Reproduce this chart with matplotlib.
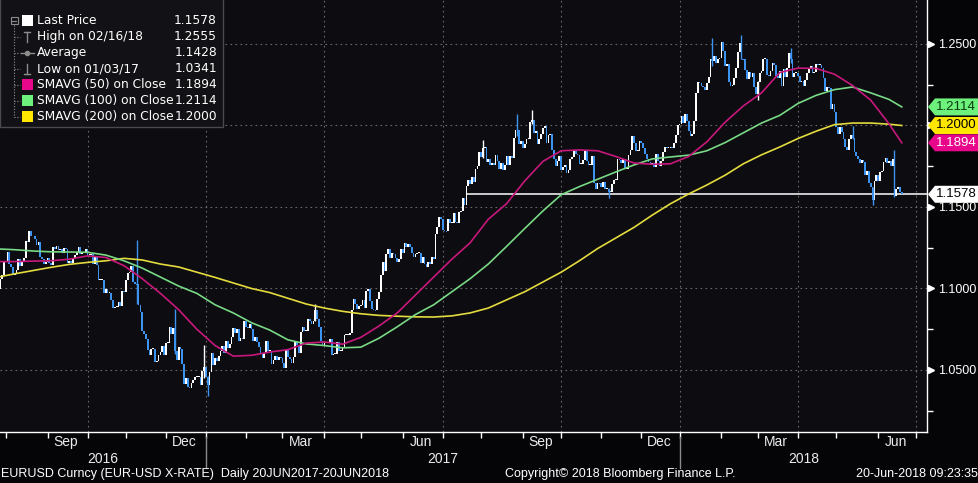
import numpy as np
import pandas as pd
import matplotlib
matplotlib.use("Agg")
import matplotlib.pyplot as plt
from matplotlib import transforms, font_manager
from matplotlib.lines import Line2D
from matplotlib.patches import Polygon, Rectangle

# EURUSD daily closes, one row per week (Mon..Fri), first row = week of 25 Jul 2016
first_day = "2016-07-25"
closes = [
    1.0990, 1.0995, 1.1060, 1.1085, 1.1170,   # Jul 25 2016
    1.1165, 1.1225, 1.1150, 1.1130, 1.1085,
    1.1090, 1.1115, 1.1180, 1.1135, 1.1160,
    1.1185, 1.1290, 1.1285, 1.1355, 1.1325,
    1.1320, 1.1305, 1.1265, 1.1285, 1.1195,
    1.1180, 1.1150, 1.1160, 1.1190, 1.1155,   # Aug 29
    1.1145, 1.1255, 1.1240, 1.1260, 1.1235,
    1.1240, 1.1220, 1.1250, 1.1240, 1.1155,
    1.1170, 1.1155, 1.1190, 1.1205, 1.1225,
    1.1255, 1.1210, 1.1220, 1.1220, 1.1240,
    1.1205, 1.1205, 1.1210, 1.1150, 1.1200,   # Oct 3
    1.1145, 1.1055, 1.1055, 1.1055, 1.0970,
    1.0995, 1.0975, 1.0975, 1.0930, 1.0880,
    1.0885, 1.0885, 1.0920, 1.0895, 1.0985,
    1.0980, 1.1055, 1.1095, 1.1100, 1.1140,
    1.1040, 1.1030, 1.1025, 1.0900, 1.0855,   # Nov 7
    1.0740, 1.0720, 1.0690, 1.0625, 1.0590,
    1.0630, 1.0630, 1.0550, 1.0555, 1.0590,
    1.0610, 1.0645, 1.0590, 1.0665, 1.0665,
    1.0765, 1.0720, 1.0760, 1.0615, 1.0560,   # Dec 5
    1.0640, 1.0630, 1.0535, 1.0415, 1.0450,
    1.0395, 1.0390, 1.0420, 1.0440, 1.0455,
    1.0455, 1.0460, 1.0410, 1.0495, 1.0520,
    1.0460, 1.0405, 1.0490, 1.0605, 1.0530,   # Jan 2 2017
    1.0575, 1.0555, 1.0585, 1.0615, 1.0645,
    1.0605, 1.0675, 1.0635, 1.0660, 1.0705,
    1.0755, 1.0730, 1.0750, 1.0680, 1.0695,
    1.0690, 1.0800, 1.0765, 1.0755, 1.0785,
    1.0750, 1.0680, 1.0700, 1.0670, 1.0640,   # Feb 6
    1.0600, 1.0575, 1.0605, 1.0675, 1.0615,
    1.0615, 1.0535, 1.0560, 1.0585, 1.0560,
    1.0580, 1.0575, 1.0545, 1.0510, 1.0620,
    1.0580, 1.0565, 1.0545, 1.0580, 1.0670,   # Mar 6
    1.0655, 1.0605, 1.0735, 1.0765, 1.0740,
    1.0740, 1.0810, 1.0800, 1.0785, 1.0800,
    1.0865, 1.0815, 1.0765, 1.0680, 1.0650,
    1.0665, 1.0665, 1.0665, 1.0690, 1.0590,   # Apr 3
    1.0600, 1.0600, 1.0670, 1.0615, 1.0615,
    1.0640, 1.0715, 1.0715, 1.0715, 1.0725,
    1.0865, 1.0935, 1.0905, 1.0875, 1.0895,
    1.0900, 1.0930, 1.0880, 1.0985, 1.0995,   # May 1
    1.0925, 1.0875, 1.0870, 1.0865, 1.0935,
    1.0980, 1.1085, 1.1160, 1.1105, 1.1210,
    1.1245, 1.1185, 1.1220, 1.1210, 1.1185,
    1.1165, 1.1180, 1.1245, 1.1215, 1.1280,
    1.1255, 1.1270, 1.1255, 1.1215, 1.1195,   # Jun 5
    1.1210, 1.1215, 1.1220, 1.1155, 1.1195,
    1.1150, 1.1130, 1.1165, 1.1150, 1.1195,
    1.1180, 1.1335, 1.1375, 1.1440, 1.1425,
    1.1360, 1.1355, 1.1350, 1.1425, 1.1400,   # Jul 3
    1.1400, 1.1465, 1.1410, 1.1400, 1.1470,
    1.1475, 1.1555, 1.1510, 1.1630, 1.1665,
    1.1640, 1.1685, 1.1655, 1.1735, 1.1750,
    1.1835, 1.1805, 1.1860, 1.1865, 1.1775,   # Jul 31
    1.1795, 1.1755, 1.1770, 1.1760, 1.1820,
    1.1780, 1.1735, 1.1770, 1.1725, 1.1760,
    1.1815, 1.1760, 1.1810, 1.1800, 1.1925,
    1.1975, 1.1970, 1.1885, 1.1905, 1.1860,
    1.1885, 1.1915, 1.1920, 1.2020, 1.2035,   # Sep 4
    1.1955, 1.1965, 1.1885, 1.1920, 1.1945,
    1.1985, 1.1995, 1.1890, 1.1940, 1.1950,
    1.1850, 1.1795, 1.1750, 1.1780, 1.1815,
    1.1730, 1.1745, 1.1760, 1.1710, 1.1730,   # Oct 2
    1.1795, 1.1805, 1.1850, 1.1825, 1.1820,
    1.1765, 1.1765, 1.1790, 1.1845, 1.1785,
    1.1760, 1.1760, 1.1815, 1.1650, 1.1610,
    1.1650, 1.1645, 1.1620, 1.1655, 1.1610,
    1.1610, 1.1590, 1.1590, 1.1640, 1.1665,   # Nov 6
    1.1665, 1.1795, 1.1790, 1.1770, 1.1795,
    1.1735, 1.1735, 1.1820, 1.1850, 1.1935,
    1.1895, 1.1845, 1.1845, 1.1905, 1.1895,
    1.1860, 1.1825, 1.1795, 1.1775, 1.1765,   # Dec 4
    1.1770, 1.1745, 1.1825, 1.1780, 1.1750,
    1.1780, 1.1840, 1.1870, 1.1860, 1.1860,
    1.1865, 1.1860, 1.1890, 1.1940, 1.2005,
    1.2010, 1.2060, 1.2015, 1.2070, 1.2030,   # Jan 1 2018
    1.1965, 1.1935, 1.1950, 1.2030, 1.2200,
    1.2265, 1.2260, 1.2240, 1.2235, 1.2220,
    1.2260, 1.2300, 1.2410, 1.2395, 1.2425,
    1.2385, 1.2405, 1.2415, 1.2510, 1.2460,
    1.2365, 1.2375, 1.2265, 1.2245, 1.2250,   # Feb 5
    1.2290, 1.2355, 1.2450, 1.2505, 1.2410,
    1.2405, 1.2340, 1.2285, 1.2330, 1.2295,
    1.2320, 1.2235, 1.2195, 1.2265, 1.2320,
    1.2335, 1.2410, 1.2410, 1.2310, 1.2305,   # Mar 5
    1.2335, 1.2385, 1.2370, 1.2305, 1.2290,
    1.2335, 1.2240, 1.2345, 1.2300, 1.2355,
    1.2445, 1.2405, 1.2300, 1.2320, 1.2320,
    1.2305, 1.2265, 1.2270, 1.2240, 1.2280,   # Apr 2
    1.2320, 1.2355, 1.2365, 1.2325, 1.2330,
    1.2380, 1.2370, 1.2370, 1.2350, 1.2290,
    1.2210, 1.2235, 1.2230, 1.2100, 1.2130,
    1.2080, 1.1990, 1.1950, 1.1990, 1.1960,   # Apr 30
    1.1920, 1.1865, 1.1850, 1.1915, 1.1940,
    1.1925, 1.1835, 1.1810, 1.1795, 1.1770,
    1.1790, 1.1775, 1.1695, 1.1720, 1.1650,
    1.1625, 1.1540, 1.1660, 1.1695, 1.1660,
    1.1715, 1.1720, 1.1775, 1.1800, 1.1770,   # Jun 4
    1.1780, 1.1750, 1.1795, 1.1570, 1.1610,
    1.1625, 1.1590, 1.1578,
]

# days with a visible wick beyond the body
spike_dates = ["2016-11-09", "2016-12-08", "2016-12-30", "2017-01-03", "2017-03-27",
               "2017-08-02", "2017-08-29", "2017-09-08", "2017-11-07", "2018-01-25",
               "2018-02-16", "2018-03-01", "2018-03-27", "2018-05-14", "2018-05-29",
               "2018-06-14"]
spike_highs = [1.1300, 1.0874, 1.0652, 1.0465, 1.0906, 1.1910, 1.2070, 1.2092, 1.1615,
               1.2537, 1.2555, 1.2275, 1.2476, 1.1995, 1.1625, 1.1852]
spike_lows = [1.0905, 1.0600, 1.0450, 1.0341, 1.0800, 1.1800, 1.1935, 1.2010, 1.1555,
              1.2365, 1.2410, 1.2155, 1.2385, 1.1915, 1.1510, 1.1560]

# moving averages every 10 trading days (+ the last day)
sma_step = 10
sma50 = [
    1.1165, 1.1165, 1.1168, 1.1170, 1.1180, 1.1200, 1.1190, 1.1140, 1.1060, 1.0970,
    1.0870, 1.0750, 1.0650, 1.0585, 1.0590, 1.0610, 1.0625, 1.0665, 1.0672, 1.0658,
    1.0700, 1.0770, 1.0850, 1.0960, 1.1070, 1.1180, 1.1280, 1.1425, 1.1520, 1.1660,
    1.1780, 1.1845, 1.1850, 1.1845, 1.1810, 1.1770, 1.1762, 1.1765, 1.1810, 1.1900,
    1.2020, 1.2120, 1.2200, 1.2325, 1.2352, 1.2350, 1.2315, 1.2245, 1.2155, 1.2010,
    1.1894,
]
sma100 = [
    1.1243, 1.1238, 1.1230, 1.1225, 1.1224, 1.1222, 1.1205, 1.1170, 1.1125, 1.1070,
    1.1015, 1.0970, 1.0900, 1.0850, 1.0790, 1.0745, 1.0685, 1.0660, 1.0650, 1.0636,
    1.0640, 1.0695, 1.0765, 1.0840, 1.0900, 1.0980, 1.1060, 1.1150, 1.1258, 1.1368,
    1.1476, 1.1575, 1.1625, 1.1670, 1.1715, 1.1758, 1.1795, 1.1807, 1.1818, 1.1845,
    1.1895, 1.1955, 1.2015, 1.2062, 1.2135, 1.2185, 1.2220, 1.2236, 1.2200, 1.2160,
    1.2114,
]
sma200 = [
    1.1068, 1.1090, 1.1110, 1.1130, 1.1148, 1.1160, 1.1170, 1.1185, 1.1175, 1.1150,
    1.1132, 1.1100, 1.1068, 1.1034, 1.1000, 1.0975, 1.0940, 1.0905, 1.0880, 1.0860,
    1.0845, 1.0835, 1.0830, 1.0826, 1.0825, 1.0832, 1.0850, 1.0880, 1.0930, 1.0980,
    1.1040, 1.1100, 1.1170, 1.1245, 1.1310, 1.1375, 1.1450, 1.1520, 1.1580, 1.1635,
    1.1695, 1.1765, 1.1820, 1.1868, 1.1920, 1.1965, 1.2005, 1.2015, 1.2015, 1.2008,
    1.2000,
]

last_price = 1.1578
last_line_from = "2017-07-20"

legend_labels = ["Last Price", "High on 02/16/18", "Average", "Low on 01/03/17",
                 "SMAVG (50) on Close", "SMAVG (100) on Close", "SMAVG (200) on Close"]
legend_values = ["1.1578", "1.2555", "1.1428", "1.0341", "1.1894", "1.2114", "1.2000"]

footer_left = "EURUSD Curncy (EUR-USD X-RATE)  Daily 20JUN2017-20JUN2018"
footer_mid = "Copyright\u00a9 2018 Bloomberg Finance L.P."
footer_right = "20-Jun-2018 09:23:35"

# colours
FIG_BG = "#050507"
AX_BG = "#0c0c11"
BLUE = "#3d93f0"
MAGENTA = "#c8187c"
GREEN = "#79d985"
YELLOW = "#e4dc3e"
TAG_MAGENTA = "#e8068a"
TAG_GREEN = "#6ef07c"
TAG_YELLOW = "#ffe600"
GRID = "#6a6a6a"

names = {f.name for f in font_manager.fontManager.ttflist}
SANS = "Liberation Sans" if "Liberation Sans" in names else "DejaVu Sans"
NARROW = "Liberation Sans Narrow" if "Liberation Sans Narrow" in names else SANS

W, H = 979, 483
AX_W, AX_H = 927, 432
fig = plt.figure(figsize=(W / 100, H / 100), dpi=100, facecolor=FIG_BG)
ax = fig.add_axes([0, (H - AX_H) / H, AX_W / W, AX_H / H])
ax.set_facecolor(AX_BG)

days = pd.bdate_range(first_day, periods=len(closes))
cal = pd.bdate_range(first_day, "2018-09-28")
x = np.arange(len(closes))
c = np.array(closes)
o = np.r_[c[0], c[:-1]]
up = c >= o
h = c - o
h = np.where(up, np.maximum(h, 0.0006), np.minimum(h, -0.0006))

ymin, ymax = 1.01196, 1.27699
ax.set_ylim(ymin, ymax)
ax.set_xlim(1.92, 510.85)

# grid
ax.set_yticks(np.arange(1.05, 1.2501, 0.05))
ax.grid(axis="y", color=GRID, linestyle=(0, (1.5, 3)), linewidth=0.8)
quarters = pd.date_range("2016-10-01", "2018-07-01", freq="QS")
for d in quarters:
    ax.axvline(cal.searchsorted(d), color=GRID, linestyle=(0, (1.5, 3)), linewidth=0.8, zorder=0.5)

# last price line
ax.hlines(last_price, days.searchsorted(pd.Timestamp(last_line_from)), 510.85,
          color="white", linewidth=1.1, zorder=1)

# candles
ax.bar(x[up], h[up], bottom=o[up], width=0.95, color="white", linewidth=0, zorder=2)
ax.bar(x[~up], h[~up], bottom=o[~up], width=0.95, color=BLUE, linewidth=0, zorder=2)
s_idx = days.get_indexer(pd.to_datetime(spike_dates))
s_col = ["white" if up[i] else BLUE for i in s_idx]
ax.vlines(s_idx, spike_lows, spike_highs, colors=s_col, linewidth=1.0, zorder=2)

# moving averages
sma_x = list(x[::sma_step]) + [x[-1]]
ax.plot(sma_x, sma200, color=YELLOW, linewidth=1.2, zorder=3)
ax.plot(sma_x, sma100, color=GREEN, linewidth=1.2, zorder=3)
ax.plot(sma_x, sma50, color=MAGENTA, linewidth=1.2, zorder=3)

# spines
for side in ["top", "left"]:
    ax.spines[side].set_visible(False)
for side in ["right", "bottom"]:
    ax.spines[side].set_color("white")
    ax.spines[side].set_linewidth(1.0)

# right axis (the 1.2000 label sits under the yellow tag in the original)
ax.yaxis.tick_right()
yt = ax.get_yticks()
ax.set_yticklabels(["" if abs(v - 1.2) < 1e-9 else f"{v:.4f}" for v in yt], fontfamily=SANS)
ax.set_yticks(np.arange(1.025, 1.27, 0.05), minor=True)
ax.tick_params(axis="y", which="major", length=0, pad=8, labelsize=9, labelcolor="white")
ax.tick_params(axis="y", which="minor", length=4, width=1, color="white", direction="out")
blend_y = transforms.blended_transform_factory(ax.transAxes, ax.transData)
ax.plot(np.ones(len(yt)) + 4 / AX_W, yt, ls="none", marker=">", ms=4.5,
        color="white", transform=blend_y, clip_on=False, zorder=4)

# bottom axis: month ticks, quarter labels, year labels
months = pd.date_range("2016-08-01", "2018-07-01", freq="MS")
ax.set_xticks([cal.searchsorted(d) for d in months])
ax.set_xticklabels([])
ax.tick_params(axis="x", length=4, width=1, color="white", direction="out")
blend_x = transforms.blended_transform_factory(ax.transData, ax.transAxes)
for d in pd.date_range("2016-09-01", "2018-06-01", freq="3MS"):
    ax.text(cal.searchsorted(d + pd.Timedelta(days=14)), -10 / AX_H, d.strftime("%b"),
            transform=blend_x, ha="center", va="center", color="#ececec",
            fontfamily=NARROW, fontsize=10)
year_starts = [cal.searchsorted(pd.Timestamp(y)) for y in ["2017-01-01", "2018-01-01"]]
bounds = [1.92] + year_starts + [510.85]
for yr, a, b in zip(["2016", "2017", "2018"], bounds[:-1], bounds[1:]):
    ax.text((a + b) / 2, -27 / AX_H, yr, transform=blend_x, ha="center", va="center",
            color="#ececec", fontfamily=NARROW, fontsize=10)
for p in year_starts:
    ax.add_line(Line2D([p, p], [-5 / AX_H, -36 / AX_H], color="#8a8a8a", lw=1,
                       transform=blend_x, clip_on=False))

# value tags on the right
half = 8.5 * (ymax - ymin) / AX_H
for val, face, txt in [(sma100[-1], TAG_GREEN, "#0a3a10"), (sma200[-1], TAG_YELLOW, "black"),
                       (sma50[-1], TAG_MAGENTA, "white"), (last_price, "white", "black")]:
    x0, x1, x2 = 1 + 1 / AX_W, 1 + 8 / AX_W, 1 + 53 / AX_W
    ax.add_patch(Polygon([(x0, val), (x1, val + half), (x2, val + half),
                          (x2, val - half), (x1, val - half)], closed=True,
                         facecolor=face, edgecolor="none", transform=blend_y,
                         clip_on=False, zorder=10))
    ax.text(1 + 9 / AX_W, val, f"{val:.4f}", transform=blend_y, ha="left", va="center",
            color=txt, fontfamily=SANS, fontsize=9.5, zorder=11, clip_on=False)

# legend block, in pixel coordinates from the top-left corner
px = transforms.Affine2D().scale(1.0 / W, -1.0 / H).translate(0, 1) + fig.transFigure
fig.add_artist(Rectangle((0, -2), 223, 129, transform=px, facecolor="#121216",
                         edgecolor="#4a4a4a", linewidth=1, zorder=20))
icon = ["white", "high", "avg", "low", TAG_MAGENTA, TAG_GREEN, TAG_YELLOW]
tree = "#8c8c8c"
rows = [20.5 + 16 * k for k in range(len(legend_labels))]
fig.add_artist(Rectangle((11, rows[0] - 3.5), 7, 7, transform=px, facecolor="none",
                         edgecolor=tree, linewidth=0.8, zorder=21))
fig.add_artist(Line2D([12.5, 16.5], [rows[0], rows[0]], color=tree, lw=0.8, transform=px, zorder=21))
fig.add_artist(Line2D([14.5, 14.5], [rows[0] + 4, rows[-1]], color=tree, lw=0.8,
                      linestyle=(0, (1, 1.5)), transform=px, zorder=21))
for k, (lab, val, kind) in enumerate(zip(legend_labels, legend_values, icon)):
    y = rows[k]
    if k > 0:
        fig.add_artist(Line2D([14.5, 20], [y, y], color=tree, lw=0.8,
                              linestyle=(0, (1, 1.5)), transform=px, zorder=21))
    if kind == "high":
        fig.add_artist(Line2D([27.5, 27.5], [y - 5, y + 5], color=tree, lw=1, transform=px, zorder=21))
        fig.add_artist(Line2D([24.5, 30.5], [y - 5, y - 5], color=tree, lw=1, transform=px, zorder=21))
    elif kind == "low":
        fig.add_artist(Line2D([27.5, 27.5], [y - 5, y + 5], color=tree, lw=1, transform=px, zorder=21))
        fig.add_artist(Line2D([24.5, 30.5], [y + 5, y + 5], color=tree, lw=1, transform=px, zorder=21))
    elif kind == "avg":
        fig.add_artist(Line2D([21, 34], [y, y], color=tree, lw=1, transform=px, zorder=21))
        fig.add_artist(Line2D([27.5], [y], color=tree, marker="o", ms=3, transform=px, zorder=21))
    else:
        fig.add_artist(Rectangle((22, y - 5.5), 11, 11, transform=px, facecolor=kind,
                                 edgecolor="none", zorder=21))
    fig.text(37, y, lab, transform=px, ha="left", va="center", color="white",
             fontsize=8.8, zorder=22)
    fig.text(217, y, val, transform=px, ha="right", va="center", color="white",
             fontsize=8.8, zorder=22)

# footer
for txt, xx, ha in [(footer_left, 1, "left"), (footer_mid, 620, "center"),
                    (footer_right, 978, "right")]:
    fig.text(xx, 474, txt, transform=px, ha=ha, va="center", color="white",
             fontfamily=NARROW, fontsize=9)

fig.savefig("out.png", dpi=100, facecolor=FIG_BG)
